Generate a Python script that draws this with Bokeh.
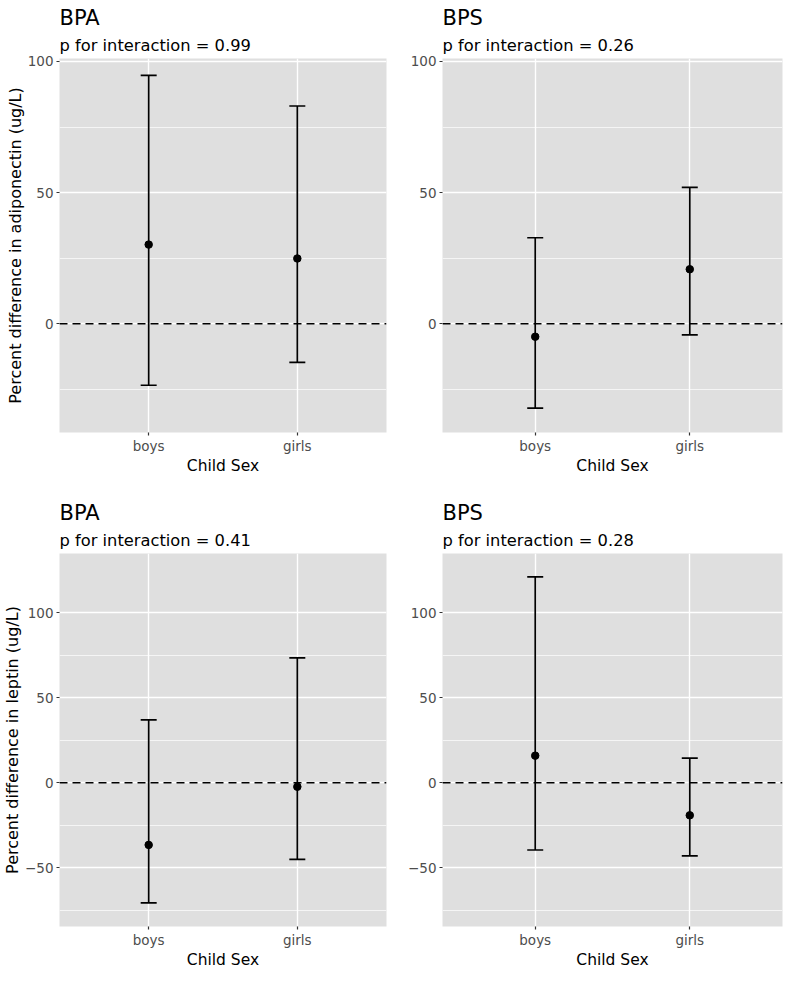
from bokeh.plotting import figure
from bokeh.layouts import gridplot
from bokeh.models import (ColumnDataSource, Whisker, TeeHead, Span, FixedTicker,
                          Range1d, FactorRange, Title)
from bokeh.embed import file_html
from bokeh.resources import INLINE

# ---------------- data ----------------
sexes = ["boys", "girls"]

bpa_adip_est = [30.2, 24.9]
bpa_adip_lo = [-23.4, -14.7]
bpa_adip_hi = [94.7, 83.0]

bps_adip_est = [-4.9, 20.8]
bps_adip_lo = [-32.1, -4.2]
bps_adip_hi = [32.8, 52.0]

bpa_lep_est = [-36.5, -2.3]
bpa_lep_lo = [-70.6, -45.0]
bpa_lep_hi = [37.0, 73.5]

bps_lep_est = [16.0, -19.1]
bps_lep_lo = [-39.5, -43.0]
bps_lep_hi = [121.2, 14.5]

chem_labels = ["BPA", "BPS", "BPA", "BPS"]
p_values = ["0.99", "0.26", "0.41", "0.28"]
y_labels = ["Percent difference in adiponectin (ug/L)",
            "Percent difference in leptin (ug/L)"]
x_label = "Child Sex"

top_ticks = [0, 50, 100]
top_minor = [-25, 25, 75]
bot_ticks = [-50, 0, 50, 100]
bot_minor = [-75, -25, 25, 75]

FONT = "DejaVu Sans"
PANEL_BG = "#DFDFDF"


def make_panel(chem, pval, est, lo, hi, ylabel, yr, ticks, minor,
               width, height, bl, br, bt, bb):
    src = ColumnDataSource(dict(sex=sexes, est=est, lo=lo, hi=hi))
    p = figure(width=width, height=height, output_backend="svg",
               toolbar_location=None,
               x_range=FactorRange(factors=sexes, range_padding=0.1),
               y_range=Range1d(*yr),
               min_border_left=bl, min_border_right=br,
               min_border_top=bt, min_border_bottom=bb)
    p.title.text = ""
    p.add_layout(Title(text="p for interaction = " + pval, text_font=FONT,
                       text_font_size="16.3px", text_font_style="normal",
                       align="left", text_color="black", standoff=8), "above")
    p.add_layout(Title(text=chem, text_font=FONT, text_font_size="21px",
                       text_font_style="normal", align="left",
                       text_color="black", standoff=0), "above")

    p.background_fill_color = PANEL_BG
    p.border_fill_color = "white"
    p.outline_line_color = None

    p.yaxis.ticker = FixedTicker(ticks=ticks, minor_ticks=minor)
    for ax in (p.xaxis[0], p.yaxis[0]):
        ax.axis_line_color = None
        ax.major_tick_line_color = "#333333"
        ax.major_tick_line_width = 1.2
        ax.major_tick_out = 3
        ax.major_tick_in = 0
        ax.minor_tick_line_color = None
        ax.major_label_text_font = FONT
        ax.major_label_text_font_size = "13.5px"
        ax.major_label_text_color = "#4D4D4D"
        ax.major_label_standoff = 2
        ax.axis_label_text_font = FONT
        ax.axis_label_text_font_style = "normal"
        ax.axis_label_text_color = "black"
        ax.axis_label_standoff = 0
    p.xaxis.axis_label = x_label
    p.xaxis.axis_label_text_font_size = "15.5px"
    p.yaxis.axis_label = ylabel
    p.yaxis.axis_label_text_font_size = "16px"

    p.xgrid.grid_line_color = "white"
    p.xgrid.grid_line_width = 1.4
    p.ygrid.grid_line_color = "white"
    p.ygrid.grid_line_width = 1.4
    p.ygrid.minor_grid_line_color = "white"
    p.ygrid.minor_grid_line_width = 0.7

    p.add_layout(Span(location=0, dimension="width", line_color="black",
                      line_width=1.5, line_dash="8 5"))

    w = Whisker(base="sex", upper="hi", lower="lo", source=src,
                dimension="height", line_color="black", line_width=1.7,
                upper_head=TeeHead(size=16, line_color="black", line_width=1.7),
                lower_head=TeeHead(size=16, line_color="black", line_width=1.7))
    p.add_layout(w)
    p.scatter(x="sex", y="est", source=src, size=7.5, color="black")
    return p


top_range = (-41.4, 101.1)
bot_range = (-84.5, 134.9)

p1 = make_panel(chem_labels[0], p_values[0], bpa_adip_est, bpa_adip_lo, bpa_adip_hi,
                y_labels[0], top_range, top_ticks, top_minor, 390, 495, 57, 4, 58, 63)
p2 = make_panel(chem_labels[1], p_values[1], bps_adip_est, bps_adip_lo, bps_adip_hi,
                None, top_range, top_ticks, top_minor, 394, 495, 52, 2, 58, 63)
p3 = make_panel(chem_labels[2], p_values[2], bpa_lep_est, bpa_lep_lo, bpa_lep_hi,
                y_labels[1], bot_range, bot_ticks, bot_minor, 390, 476, 57, 4, 58, 44)
p4 = make_panel(chem_labels[3], p_values[3], bps_lep_est, bps_lep_lo, bps_lep_hi,
                None, bot_range, bot_ticks, bot_minor, 394, 476, 52, 2, 58, 44)

grid = gridplot([[p1, p2], [p3, p4]], toolbar_location=None)

open("out.html", "w").write(file_html(grid, INLINE))
